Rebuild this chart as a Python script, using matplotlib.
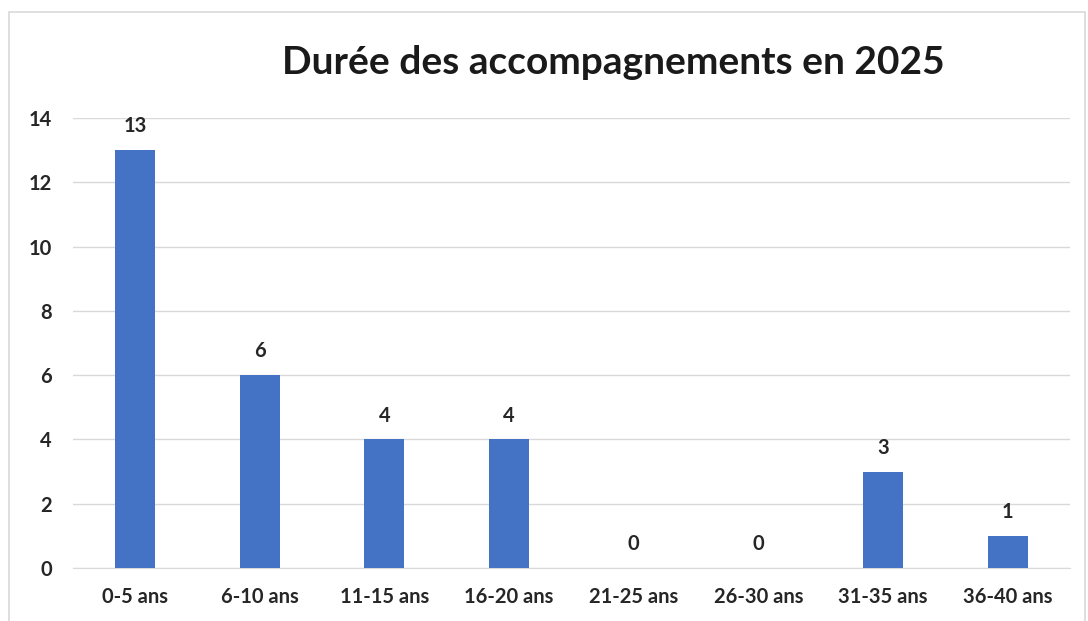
import matplotlib
matplotlib.use("Agg")
import matplotlib.pyplot as plt
from matplotlib.patches import Rectangle

categories = ["0-5 ans", "6-10 ans", "11-15 ans", "16-20 ans", "21-25 ans", "26-30 ans", "31-35 ans", "36-40 ans"]
values = [13, 6, 4, 4, 0, 0, 3, 1]
yticks = [0, 2, 4, 6, 8, 10, 12, 14]
title = "Durée des accompagnements en 2025"

plt.rcParams['font.family'] = ['Lato', 'DejaVu Sans']

fig = plt.figure(figsize=(10.88, 6.21), dpi=100)
fig.patch.set_facecolor("white")
# outer chart border
fig.patches.append(Rectangle((9/1088, -0.05), (1085-9)/1088, 1 - 12/621 + 0.05,
                             transform=fig.transFigure, fill=False,
                             edgecolor="#d9d9d9", linewidth=1.2))

ax = fig.add_axes([72.6/1088, 53/621, (1070-72.6)/1088, 450/621])
x = list(range(len(categories)))
bars = ax.bar(x, values, width=0.32, color="#4472C4", zorder=3)
ax.set_xlim(-0.5, len(categories) - 0.5)
ax.set_ylim(0, 14)
ax.set_yticks(yticks)
ax.set_xticks(x)
fs = 14.5
ax.set_xticklabels(categories, fontsize=fs, fontweight="bold", color="#262626")
ax.set_yticklabels([str(v) for v in yticks], fontsize=fs, fontweight="bold", color="#262626")
ax.tick_params(axis="both", length=0)
ax.tick_params(axis="x", pad=14)
ax.tick_params(axis="y", pad=15)
ax.grid(axis="y", color="#d9d9d9", linewidth=1, zorder=0)
for s in ["top", "right", "left"]:
    ax.spines[s].set_visible(False)
ax.spines["bottom"].set_color("#d9d9d9")

for xi, v in zip(x, values):
    ax.annotate(str(v), (xi, v), xytext=(0, 10), textcoords="offset points",
                ha="center", va="bottom", fontsize=fs, fontweight="bold", color="#262626")

fig.text(613/1088, 1 - 62/621, title, ha="center", va="center",
         fontsize=28, fontweight="bold", color="#1a1a1a")

fig.savefig("out.png", dpi=100)
